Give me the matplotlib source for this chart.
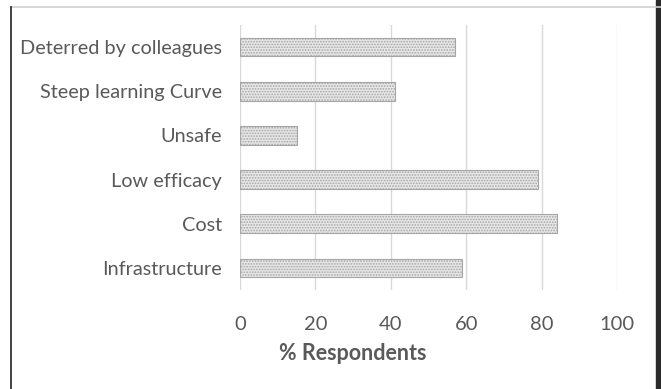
import matplotlib.pyplot as plt
from matplotlib.lines import Line2D
from matplotlib.patches import Rectangle

plt.rcParams["font.family"] = ["Lato", "DejaVu Sans"]
plt.rcParams["hatch.color"] = "#a0a0a0"
plt.rcParams["hatch.linewidth"] = 0.8

barriers = [
    "Infrastructure",
    "Cost",
    "Low efficacy",
    "Unsafe",
    "Steep learning Curve",
    "Deterred by colleagues",
]
respondents_pct = [59, 84, 79, 15, 41, 57]
x_ticks = [0, 20, 40, 60, 80, 100]

text_grey = "#595959"

fig = plt.figure(figsize=(6.61, 3.89), dpi=100)
ax = fig.add_axes([240 / 661, 1 - 290 / 389, (617 - 240) / 661, (290 - 25) / 389])

ax.barh(
    range(len(barriers)),
    respondents_pct,
    height=0.42,
    color="#e6e6e6",
    edgecolor="#a6a6a6",
    linewidth=0.8,
    hatch="......",
    zorder=3,
)

ax.set_xlim(0, 100)
ax.set_ylim(-0.5, len(barriers) - 0.5)
ax.set_xticks(x_ticks)
ax.set_yticks(range(len(barriers)))
ax.set_yticklabels(barriers)
ax.tick_params(axis="y", length=0, pad=13, labelsize=14.3, labelcolor=text_grey)
ax.tick_params(axis="x", length=0, pad=19, labelsize=14.5, labelcolor=text_grey)
ax.grid(axis="x", color="#d9d9d9", linewidth=1, zorder=0)
for side in ax.spines.values():
    side.set_visible(False)

ax.set_xlabel("% Respondents", fontsize=15.5, fontweight="bold", color=text_grey)
ax.xaxis.set_label_coords(0.30, -0.2)

# frame around the chart: thin grey top, dark left and right edges
fig.add_artist(Line2D([11 / 661, 1], [1 - 7 / 389] * 2, color="#d0d0d0", linewidth=1.2,
                      transform=fig.transFigure))
fig.add_artist(Line2D([11 / 661] * 2, [0, 1 - 7 / 389], color="#333333", linewidth=1.3,
                      transform=fig.transFigure))
fig.add_artist(Rectangle((656 / 661, 0), 5 / 661, 1, color="#2a2a2a",
                         transform=fig.transFigure))

fig.savefig("out.png", dpi=100)
